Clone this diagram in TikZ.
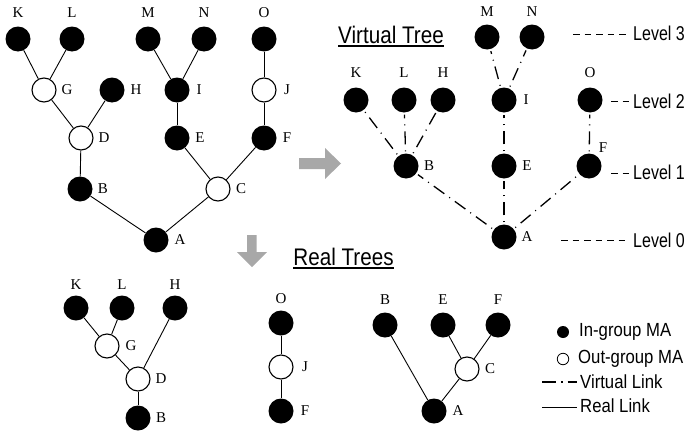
\documentclass[tikz,border=0pt]{standalone}
\usepackage{fontspec}
\setmainfont{Liberation Serif}
\newfontfamily\titlefont[FakeStretch=0.86]{Liberation Sans}
\newfontfamily\levelfont[FakeStretch=0.80]{Liberation Sans}
\newfontfamily\legendfont[FakeStretch=0.88]{Liberation Sans}
\definecolor{arrowgray}{gray}{0.66}

% agent node: name, style, position, label shift, label text
\newcommand\agent[5]{%
  \node[#2] (#1) at (#3) {};
  \node[lbl] (#1t) at ([#4]#1.center) {#5};}

\tikzset{
  inma/.style={circle, fill=black, inner sep=0pt, minimum size=25pt},
  outma/.style={circle, draw=black, line width=1.1pt, fill=white, inner sep=0pt, minimum size=24pt},
  lbl/.style={inner sep=0pt, font=\fontsize{15}{15}\selectfont},
  reallink/.style={line width=0.9pt},
  virtlink/.style={line width=1.3pt, dash pattern=on 1pt off 6pt on 13pt off 6pt, shorten <=2pt, shorten >=2pt},
  levelline/.style={line width=0.8pt, dash pattern=on 6.5pt off 5pt},
  leveltext/.style={inner sep=0pt, anchor=west, font=\levelfont\fontsize{20}{20}\selectfont},
  legendtext/.style={inner sep=0pt, anchor=west, font=\legendfont\fontsize{19}{19}\selectfont},
  titletext/.style={inner sep=0pt, anchor=base, font=\titlefont\fontsize{24}{24}\selectfont},
}

\begin{document}
\begin{tikzpicture}[x=1pt, y=-1pt]
\useasboundingbox (0,0) rectangle (687,431);

% ---------------- full multicast tree ----------------
\agent{aK}{inma}{18,39}{yshift=26pt}{K}
\agent{aL}{inma}{72,39}{yshift=26pt}{L}
\agent{aM}{inma}{148,39}{yshift=26pt}{M}
\agent{aN}{inma}{204,39}{yshift=26pt}{N}
\agent{aO}{inma}{264,39}{yshift=26pt}{O}
\agent{aG}{outma}{44,90}{xshift=23pt}{G}
\agent{aH}{inma}{112,90}{xshift=24pt}{H}
\agent{aI}{inma}{177,90}{xshift=22pt}{I}
\agent{aJ}{outma}{264,90}{xshift=23pt}{J}
\agent{aD}{outma}{81,138}{xshift=23pt}{D}
\agent{aE}{inma}{177,138}{xshift=23pt}{E}
\agent{aF}{inma}{264,138}{xshift=23pt}{F}
\agent{aB}{inma}{80,189}{xshift=23pt}{B}
\agent{aC}{outma}{218,189}{xshift=23pt}{C}
\agent{aA}{inma}{156,240}{xshift=24pt}{A}

\draw[reallink] (aK) -- (aG);
\draw[reallink] (aL) -- (aG);
\draw[reallink] (aG) -- (aD);
\draw[reallink] (aH) -- (aD);
\draw[reallink] (aD) -- (aB);
\draw[reallink] (aB) -- (aA);
\draw[reallink] (aM) -- (aI);
\draw[reallink] (aN) -- (aI);
\draw[reallink] (aI) -- (aE);
\draw[reallink] (aE) -- (aC);
\draw[reallink] (aO) -- (aJ);
\draw[reallink] (aJ) -- (aF);
\draw[reallink] (aF) -- (aC);
\draw[reallink] (aC) -- (aA);

% ---------------- gray arrows ----------------
\fill[arrowgray] (299,158) -- (325,158) -- (325,148) -- (341,163.5) -- (325,179) -- (325,169) -- (299,169) -- cycle;
\fill[arrowgray] (247,235) -- (256.5,235) -- (256.5,252) -- (267,252) -- (252,267) -- (237,252) -- (247,252) -- cycle;

% ---------------- virtual tree ----------------
\node[titletext] (vtitle) at (391,43) {Virtual Tree};
\draw[line width=1.3pt] ([yshift=-3pt]vtitle.base west) -- ([yshift=-3pt]vtitle.base east);

\agent{vM}{inma}{487,37}{yshift=25pt}{M}
\agent{vN}{inma}{532,37}{yshift=25pt}{N}
\agent{vK}{inma}{356,100}{yshift=27pt}{K}
\agent{vL}{inma}{404,100}{yshift=27pt}{L}
\agent{vH}{inma}{443,100}{yshift=27pt}{H}
\agent{vI}{inma}{504,100}{xshift=22pt}{I}
\agent{vO}{inma}{590,100}{yshift=27pt}{O}
\agent{vB}{inma}{406,166}{xshift=23pt}{B}
\agent{vE}{inma}{504,166}{xshift=23pt}{E}
\agent{vF}{inma}{589,166}{xshift=14pt,yshift=18pt}{F}
\agent{vA}{inma}{504,237}{xshift=23pt}{A}

\draw[virtlink] (vB) -- (vK);
\draw[virtlink] (vB) -- (vL);
\draw[virtlink] (vB) -- (vH);
\draw[virtlink] (vI) -- (vM);
\draw[virtlink] (vI) -- (vN);
\draw[virtlink] (vE) -- (vI);
\draw[virtlink] (vF) -- (vO);
\draw[virtlink] (vA) -- (vB);
\draw[virtlink] (vA) -- (vE);
\draw[virtlink] (vA) -- (vF);

% level markers
\node[leveltext] (lv3) at (633,33) {Level 3};
\node[leveltext] (lv2) at (633,101) {Level 2};
\node[leveltext] (lv1) at (633,172) {Level 1};
\node[leveltext] (lv0) at (633,240) {Level 0};
\coordinate (lv3s) at (573,34);
\coordinate (lv2s) at (611,101);
\coordinate (lv1s) at (611,173);
\coordinate (lv0s) at (561,240);
\draw[levelline] (lv3s) -- ([xshift=-4pt]lv3.west |- lv3s);
\draw[levelline] (lv2s) -- ([xshift=-4pt]lv2.west |- lv2s);
\draw[levelline] (lv1s) -- ([xshift=-4pt]lv1.west |- lv1s);
\draw[levelline] (lv0s) -- ([xshift=-4pt]lv0.west |- lv0s);

% ---------------- real trees ----------------
\node[titletext] (rtitle) at (343.5,265) {Real Trees};
\draw[line width=1.3pt] ([yshift=-3pt]rtitle.base west) -- ([yshift=-3pt]rtitle.base east);

% tree rooted at B
\agent{rK}{inma}{76,308}{yshift=23pt}{K}
\agent{rL}{inma}{122,308}{yshift=23pt}{L}
\agent{rH}{inma}{175,308}{yshift=23pt}{H}
\agent{rG}{outma}{107,346}{xshift=24pt}{G}
\agent{rD}{outma}{138,379}{xshift=23pt}{D}
\agent{rB}{inma}{138,418}{xshift=23pt}{B}
\draw[reallink] (rK) -- (rG);
\draw[reallink] (rL) -- (rG);
\draw[reallink] (rG) -- (rD);
\draw[reallink] (rH) -- (rD);
\draw[reallink] (rD) -- (rB);

% tree rooted at F
\agent{sO}{inma}{281,323}{yshift=24pt}{O}
\agent{sJ}{outma}{281,367}{xshift=24pt}{J}
\agent{sF}{inma}{281,411}{xshift=24pt}{F}
\draw[reallink] (sO) -- (sJ);
\draw[reallink] (sJ) -- (sF);

% tree rooted at A
\agent{tB}{inma}{385,325}{yshift=25pt}{B}
\agent{tE}{inma}{443,325}{yshift=25pt}{E}
\agent{tF}{inma}{498,325}{yshift=25pt}{F}
\agent{tC}{outma}{467,369}{xshift=23pt}{C}
\agent{tA}{inma}{434,411}{xshift=24pt}{A}
\draw[reallink] (tB) -- (tA);
\draw[reallink] (tE) -- (tC);
\draw[reallink] (tF) -- (tC);
\draw[reallink] (tC) -- (tA);

% ---------------- legend ----------------
\node[circle, fill=black, inner sep=0pt, minimum size=12pt] (kin) at (563,332) {};
\node[circle, draw=black, line width=0.8pt, fill=white, inner sep=0pt, minimum size=11.5pt] (kout) at (563,359) {};
\node[legendtext] (kint) at (579,332) {In-group MA};
\node[legendtext] (koutt) at (578,359) {Out-group MA};
\node[legendtext] (kvt) at (580,382) {Virtual Link};
\node[legendtext] (krt) at (580,406) {Real Link};
\coordinate (kvs) at (542,382);
\coordinate (krs) at (542,407);
\draw[line width=1.5pt, dash pattern=on 14pt off 5pt on 1.5pt off 5pt] (kvs) -- ([xshift=-3pt]kvt.west |- kvs);
\draw[line width=0.9pt] (krs) -- ([xshift=-3pt]krt.west |- krs);

\end{tikzpicture}
\end{document}
